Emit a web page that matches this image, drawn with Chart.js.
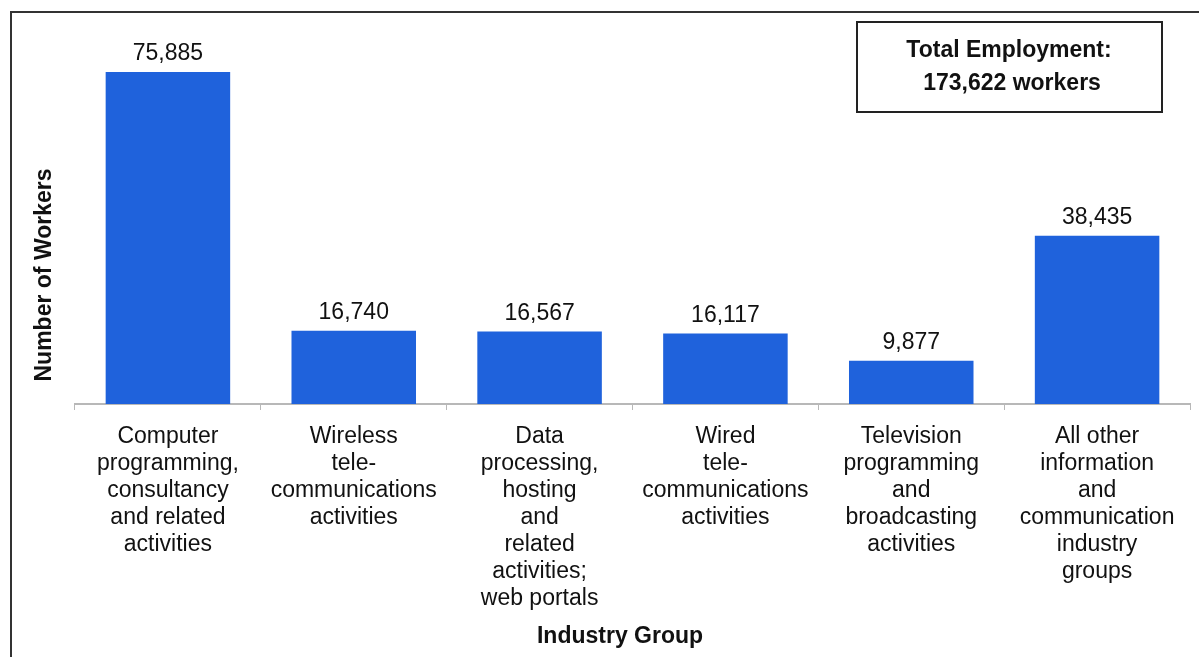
<!DOCTYPE html>
<html>
<head>
<meta charset="utf-8">
<script src="https://cdn.jsdelivr.net/npm/chart.js@4/dist/chart.umd.min.js"></script>
<style>
    html, body { margin: 0; padding: 0; background: #fff; }
    #wrap { position: relative; width: 1199px; height: 657px; overflow: hidden; }
    #frame { position: absolute; left: 10px; top: 11px; width: 1300px; height: 800px; border: 2px solid #333; }
    canvas { position: absolute; left: 0; top: 0; }
</style>
</head>
<body>
<div id="wrap">
    <div id="frame"></div>
    <canvas id="industryChart" width="1199" height="657"></canvas>
</div>
<script>
const categories = [
    ['Computer', 'programming,', 'consultancy', 'and related', 'activities'],
    ['Wireless', 'tele-', 'communications', 'activities'],
    ['Data', 'processing,', 'hosting', 'and', 'related', 'activities;', 'web portals'],
    ['Wired', 'tele-', 'communications', 'activities'],
    ['Television', 'programming', 'and', 'broadcasting', 'activities'],
    ['All other', 'information', 'and', 'communication', 'industry', 'groups']
];
const workers = [75885, 16740, 16567, 16117, 9877, 38435];
const totalLines = ['Total Employment:', '173,622 workers'];
const yTitle = 'Number of Workers';
const xTitle = 'Industry Group';

const font = '"Liberation Sans", Arial, sans-serif';

const extrasPlugin = {
    id: 'extras',
    afterDatasetsDraw(chart) {
        const ctx = chart.ctx;
        const meta = chart.getDatasetMeta(0);
        ctx.save();
        // value labels above bars
        ctx.fillStyle = '#111';
        ctx.font = '23px ' + font;
        ctx.textAlign = 'center';
        ctx.textBaseline = 'middle';
        meta.data.forEach((bar, i) => {
            ctx.fillText(workers[i].toLocaleString('en-US'), bar.x, bar.y - 18);
        });

        // total box
        ctx.strokeStyle = '#222';
        ctx.lineWidth = 2;
        ctx.strokeRect(857, 22, 305, 90);
        ctx.font = 'bold 23px ' + font;
        ctx.fillText(totalLines[0], 1009, 51);
        ctx.fillText(totalLines[1], 1012, 84);

        // y title
        ctx.save();
        ctx.translate(45, 275);
        ctx.rotate(-Math.PI / 2);
        ctx.fillText(yTitle, 0, 0);
        ctx.restore();

        // x title
        ctx.fillText(xTitle, 620, 637);
        ctx.restore();
    }
};

new Chart(document.getElementById('industryChart'), {
    type: 'bar',
    data: {
        labels: categories,
        datasets: [{
            data: workers,
            backgroundColor: '#1f62dc',
            categoryPercentage: 0.67,
            barPercentage: 1.0
        }]
    },
    options: {
        responsive: false,
        animation: false,
        layout: { padding: { left: 75, right: 9, top: 54, bottom: 0 } },
        plugins: {
            legend: { display: false },
            tooltip: { enabled: false }
        },
        scales: {
            x: {
                afterFit: (scale) => { scale.height = 253; },
                grid: {
                    offset: true,
                    drawOnChartArea: false,
                    drawTicks: true,
                    tickLength: 6,
                    color: '#b8b8b8'
                },
                border: { color: '#b8b8b8', width: 2 },
                ticks: {
                    color: '#111',
                    font: { family: font, size: 23, lineHeight: 27 / 23 },
                    padding: 13,
                    maxRotation: 0,
                    autoSkip: false
                }
            },
            y: {
                display: false,
                min: 0,
                max: 80000
            }
        }
    },
    plugins: [extrasPlugin]
});
</script>
</body>
</html>
